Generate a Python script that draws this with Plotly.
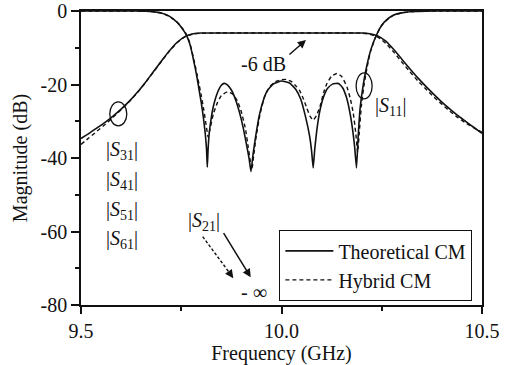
import plotly.graph_objects as go

# ---------------- data ----------------
# Transmission |S31|..|S61| - theoretical (solid)
f_tr = [9.50, 9.52, 9.54, 9.56, 9.58, 9.60, 9.62, 9.64, 9.66, 9.68, 9.70, 9.72,
        9.74, 9.76, 9.78, 9.80, 9.85, 9.90, 9.95, 10.00, 10.05, 10.10, 10.15,
        10.20, 10.22, 10.24, 10.26, 10.28, 10.30, 10.32, 10.34, 10.36, 10.38,
        10.40, 10.42, 10.44, 10.46, 10.48, 10.50]
tr_theo = [-34.7, -33.3, -31.8, -30.3, -28.6, -26.7, -24.6, -22.2, -19.5, -16.6,
           -13.7, -10.9, -8.5, -6.9, -6.2, -6.0, -6.0, -6.0, -6.0, -6.0, -6.0,
           -6.0, -6.0, -6.0, -6.2, -6.8, -8.2, -10.5, -13.1, -15.7, -18.2, -20.5,
           -22.7, -24.8, -26.7, -28.5, -30.1, -31.7, -33.3]
tr_hyb = [-36.3, -34.5, -32.7, -30.9, -28.9, -26.9, -24.7, -22.3, -19.6, -16.7,
          -13.8, -11.0, -8.6, -7.0, -6.25, -6.05, -6.0, -6.0, -6.0, -6.0, -6.0,
          -6.0, -6.0, -6.05, -6.3, -7.1, -8.8, -11.2, -13.9, -16.5, -19.0, -21.2,
          -23.4, -25.4, -27.3, -29.0, -30.5, -31.8, -33.0]

# Reflection |S11| - theoretical (solid)
f_s11_theo = [9.50, 9.60, 9.64, 9.66, 9.68, 9.70, 9.72, 9.74, 9.75, 9.76, 9.765,
              9.77, 9.775, 9.78, 9.785, 9.79, 9.795, 9.80, 9.805, 9.81, 9.813,
              9.815, 9.817, 9.82, 9.825, 9.83, 9.84, 9.85, 9.857, 9.865, 9.875,
              9.885, 9.895, 9.905, 9.913, 9.919, 9.924, 9.929, 9.935, 9.945,
              9.955, 9.965, 9.98, 10.00, 10.02, 10.035, 10.048, 10.06, 10.07,
              10.075, 10.079, 10.083, 10.088, 10.095, 10.105, 10.115, 10.127,
              10.142, 10.152, 10.162, 10.17, 10.177, 10.182, 10.187, 10.191,
              10.196, 10.204, 10.212, 10.22, 10.23, 10.24, 10.25, 10.26, 10.28,
              10.30, 10.33, 10.36, 10.40, 10.50]
s11_theo = [0.0, 0.0, -0.02, -0.06, -0.2, -0.55, -1.4, -3.1, -4.4, -6.0, -7.1,
            -8.5, -10.5, -13.0, -15.6, -18.5, -21.8, -25.0, -28.8, -33.5, -37.5,
            -42.5, -37.5, -33.0, -29.0, -26.0, -22.3, -20.2, -19.7, -20.1, -21.5,
            -24.0, -27.5, -32.0, -36.5, -40.0, -43.7, -39.0, -34.5, -28.2, -24.2,
            -21.6, -19.8, -19.05, -19.6, -21.2, -24.0, -28.8, -34.0, -38.0, -42.7,
            -37.5, -32.5, -27.5, -23.3, -21.0, -19.9, -19.7, -20.8, -23.5, -27.3,
            -32.0, -36.5, -42.7, -34.5, -26.5, -20.0, -15.3, -11.6, -8.3, -5.8,
            -3.9, -2.6, -1.1, -0.5, -0.15, -0.04, 0.0, 0.0]

# Reflection |S11| - hybrid (dashed)
f_s11_hyb = [9.50, 9.60, 9.64, 9.66, 9.68, 9.70, 9.72, 9.74, 9.75, 9.76, 9.765,
             9.77, 9.775, 9.78, 9.785, 9.79, 9.795, 9.80, 9.806, 9.812, 9.817,
             9.822, 9.83, 9.84, 9.85, 9.865, 9.878, 9.89, 9.90, 9.91, 9.917,
             9.921, 9.926, 9.931, 9.937, 9.947, 9.958, 9.97, 9.985, 10.00,
             10.012, 10.025, 10.037, 10.046, 10.055, 10.063, 10.071, 10.079,
             10.087, 10.096, 10.105, 10.113, 10.125, 10.138, 10.15, 10.163,
             10.172, 10.179, 10.185, 10.19, 10.194, 10.199, 10.206, 10.214,
             10.222, 10.232, 10.242, 10.252, 10.265, 10.28, 10.30, 10.33, 10.36,
             10.40, 10.50]
s11_hyb = [0.0, 0.0, -0.02, -0.06, -0.2, -0.55, -1.4, -3.1, -4.3, -5.8, -6.9,
           -8.3, -10.2, -12.6, -15.0, -17.6, -20.3, -23.0, -26.8, -31.0, -34.3,
           -32.0, -28.0, -25.0, -23.0, -22.0, -22.6, -24.5, -27.5, -32.0, -37.0,
           -40.0, -43.2, -39.0, -34.0, -27.8, -23.2, -20.7, -19.2, -18.7, -18.6,
           -19.2, -20.5, -21.8, -24.0, -26.4, -28.6, -29.7, -28.5, -26.0, -22.2,
           -19.8, -17.7, -17.0, -17.8, -20.6, -24.0, -27.8, -33.0, -38.5, -33.0,
           -26.0, -20.0, -15.0, -11.0, -7.8, -5.4, -3.6, -2.2, -1.1, -0.5, -0.15,
           -0.04, 0.0, 0.0]

x_tickvals = [9.5, 10.0, 10.5]
x_ticktext = ["9.5", "10.0", "10.5"]
y_tickvals = [-80, -60, -40, -20, 0]
y_ticktext = ["-80", "-60", "-40", "-20", "0"]

FONT = "Liberation Serif"
BLACK = "#111111"
DASH = "4px,3px"

fig = go.Figure()
fig.add_trace(go.Scatter(x=f_tr, y=tr_theo, mode="lines", name="Theoretical CM",
                         line=dict(color=BLACK, width=1.6, shape="spline", smoothing=0.6),
                         showlegend=True))
fig.add_trace(go.Scatter(x=f_s11_theo, y=s11_theo, mode="lines", name="Theoretical CM",
                         line=dict(color=BLACK, width=1.6, shape="spline", smoothing=0.4),
                         showlegend=False))
fig.add_trace(go.Scatter(x=f_tr, y=tr_hyb, mode="lines", name="Hybrid CM",
                         line=dict(color=BLACK, width=1.4, dash=DASH, shape="spline", smoothing=0.6),
                         showlegend=True))
fig.add_trace(go.Scatter(x=f_s11_hyb, y=s11_hyb, mode="lines", name="Hybrid CM",
                         line=dict(color=BLACK, width=1.4, dash=DASH, shape="spline", smoothing=0.4),
                         showlegend=False))

# ellipses
fig.add_shape(type="circle", xref="x", yref="y", xsizemode="pixel", ysizemode="pixel",
              xanchor=9.593, yanchor=-28.0, x0=-8.5, x1=8.5, y0=-12, y1=12,
              line=dict(color=BLACK, width=1.3))
fig.add_shape(type="circle", xref="x", yref="y", xsizemode="pixel", ysizemode="pixel",
              xanchor=10.206, yanchor=-20.4, x0=-8, x1=8, y0=-13, y1=13,
              line=dict(color=BLACK, width=1.3))

# dashed arrow shaft for |S21|
fig.add_shape(type="line", xref="x", yref="y", x0=9.8035, y0=-61.4, x1=9.872, y1=-71.5,
              line=dict(color=BLACK, width=1.4, dash="3px,2px"))

ann = []
def txt(x, y, t, size=20, **kw):
    ann.append(dict(x=x, y=y, xref="x", yref="y", text=t, showarrow=False,
                    font=dict(family=FONT, size=size, color=BLACK), **kw))

txt(9.954, -14.3, "-6 dB")
txt(10.273, -26.0, "|<i>S</i><sub>11</sub>|")
txt(9.602, -37.9, "|<i>S</i><sub>31</sub>|")
txt(9.602, -46.0, "|<i>S</i><sub>41</sub>|")
txt(9.602, -54.2, "|<i>S</i><sub>51</sub>|")
txt(9.602, -62.3, "|<i>S</i><sub>61</sub>|")
txt(9.8067, -57.2, "|<i>S</i><sub>21</sub>|")
txt(9.9314, -76.4, "- ∞")

# arrows
ann.append(dict(x=10.061, y=-7.9, ax=10.016, ay=-12.2, xref="x", yref="y", axref="x", ayref="y",
                text="", showarrow=True, arrowhead=2, arrowsize=1.1, arrowwidth=1.5,
                arrowcolor=BLACK, standoff=0, startstandoff=0))
ann.append(dict(x=9.9232, y=-72.46, ax=9.8534, ay=-60.06, xref="x", yref="y", axref="x", ayref="y",
                text="", showarrow=True, arrowhead=2, arrowsize=1.1, arrowwidth=1.5,
                arrowcolor=BLACK, standoff=0, startstandoff=0))
ann.append(dict(x=9.8798, y=-72.7, ax=9.868, ay=-70.9, xref="x", yref="y", axref="x", ayref="y",
                text="", showarrow=True, arrowhead=2, arrowsize=1.1, arrowwidth=1.5,
                arrowcolor=BLACK, standoff=0, startstandoff=0))

fig.update_layout(
    width=516, height=365,
    margin=dict(l=81, r=34, t=11, b=60, autoexpand=False),
    paper_bgcolor="white", plot_bgcolor="white",
    font=dict(family=FONT, size=20, color=BLACK),
    annotations=ann,
    legend=dict(x=0.494, y=0.255, xanchor="left", yanchor="top",
                bordercolor=BLACK, borderwidth=1.3, bgcolor="white",
                font=dict(family=FONT, size=20, color=BLACK),
                itemwidth=48, tracegroupgap=0),
)
fig.update_xaxes(range=[9.5, 10.5], tickmode="array", tickvals=x_tickvals, ticktext=x_ticktext,
                 automargin=False,
                 ticks="outside", ticklen=7, tickwidth=1.5, tickcolor=BLACK,
                 showline=True, linecolor=BLACK, linewidth=1.5, mirror=True,
                 showgrid=False, zeroline=False,
                 minor=dict(tickvals=[9.75, 10.25], ticks="outside", ticklen=4, tickwidth=1.5, tickcolor=BLACK),
                 title=dict(text="Frequency (GHz)", font=dict(family=FONT, size=20), standoff=6),
                 tickfont=dict(family=FONT, size=20, color=BLACK))
fig.update_yaxes(range=[-80, 0], tickmode="array", tickvals=y_tickvals, ticktext=y_ticktext,
                 automargin=False,
                 ticks="outside", ticklen=8, tickwidth=1.5, tickcolor=BLACK,
                 showline=True, linecolor=BLACK, linewidth=1.5, mirror=True,
                 showgrid=False, zeroline=False,
                 minor=dict(tickvals=[-70, -50, -30, -10], ticks="outside", ticklen=4, tickwidth=1.5, tickcolor=BLACK),
                 title=dict(text="Magnitude (dB)", font=dict(family=FONT, size=20), standoff=8),
                 tickfont=dict(family=FONT, size=20, color=BLACK))

fig.write_html("out.html")
